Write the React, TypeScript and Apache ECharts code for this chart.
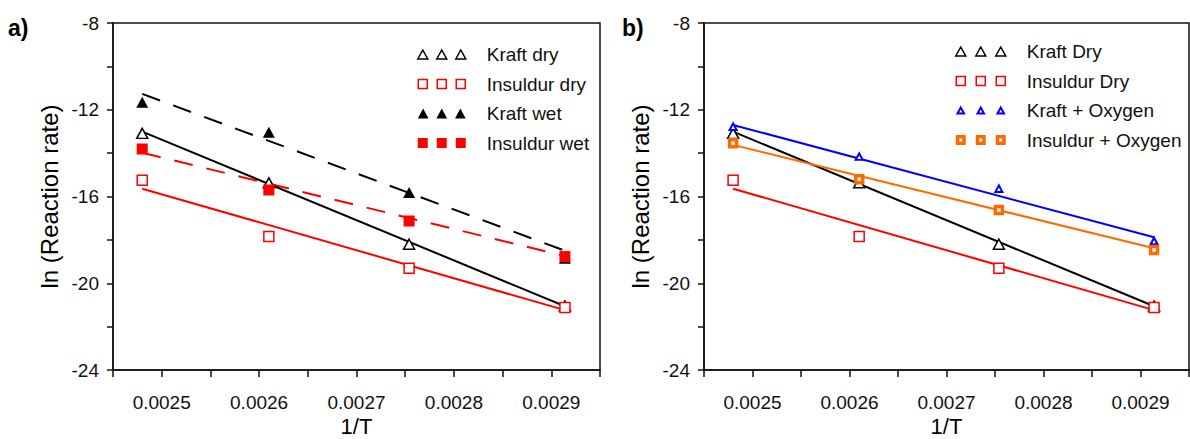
import React, { useEffect, useRef } from "react";
import * as echarts from "echarts";

// 1/T values (K^-1)
const invT = [0.00248, 0.00261, 0.002754, 0.002914];

// Panel a) measured ln(rate)
const kraftDry = [-13.09, -15.37, -18.2, -21.05];
const insuldurDry = [-15.25, -17.84, -19.31, -21.12];
const kraftWet = [-11.65, -13.04, -15.82, -18.85];
const insuldurWet = [-13.81, -15.7, -17.13, -18.77];

// Panel b) measured ln(rate)
const kraftOxygen = [-12.78, -14.16, -15.64, -18.05];
const insuldurOxygen = [-13.55, -15.21, -16.62, -18.47];

// Linear-fit end values (at first and last 1/T)
const kraftDryFit = [-13.01, -21.06];
const insuldurDryFit = [-15.64, -21.24];
const kraftWetFit = [-11.27, -18.5];
const insuldurWetFit = [-13.98, -18.75];
const kraftOxygenFit = [-12.7, -17.88];
const insuldurOxygenFit = [-13.62, -18.39];

const yTicks = { min: -24, max: -8, step: 2, labelStep: 4 };
const xTicks = { min: 0.00245, max: 0.00295, step: 0.00005 };

const FONT = "'Liberation Sans', Arial, Helvetica, sans-serif";

const pts = (ys: number[]) => invT.map((x, i) => [x, ys[i]]);
const fitPts = (f: number[]) => [
  [invT[0], f[0]],
  [invT[invT.length - 1], f[1]],
];

const pad = (w: number, h: number) => `M0,0 L0,0 M${w},${h} L${w},${h} `;
const triIcon = (w: number, gap: number, tw: number, th: number) => {
  let d = pad(w, 10);
  for (let k = 0; k < 3; k++) {
    const cx = 5 + k * gap;
    d += `M${cx - tw / 2},${5 + th / 2} L${cx},${5 - th / 2} L${cx + tw / 2},${5 + th / 2} Z `;
  }
  return "path://" + d;
};
const sqIcon = (w: number, gap: number, s: number) => {
  let d = pad(w, 10);
  for (let k = 0; k < 3; k++) {
    const cx = 5 + k * gap;
    d += `M${cx - s / 2},${5 - s / 2} L${cx + s / 2},${5 - s / 2} L${cx + s / 2},${5 + s / 2} L${cx - s / 2},${5 + s / 2} Z `;
  }
  return "path://" + d;
};

function makeXAxis(gridIndex: number) {
  return {
    type: "value",
    gridIndex,
    min: xTicks.min,
    max: xTicks.max,
    interval: xTicks.step,
    name: "1/T",
    nameLocation: "middle",
    nameGap: 45,
    nameMoveOverlap: false,
    nameTextStyle: { fontSize: 22, lineHeight: 22, color: "#000", fontFamily: FONT },
    axisLine: { show: true, onZero: false, lineStyle: { color: "#111", width: 1.5 } },
    axisTick: { show: true, length: 7, lineStyle: { color: "#111", width: 1.5 } },
    axisLabel: {
      margin: 23,
      fontSize: 19,
      lineHeight: 19,
      color: "#111",
      fontFamily: FONT,
      showMinLabel: true,
      showMaxLabel: true,
      formatter: (v: number) =>
        Math.round(v * 1e5) % 10 === 0 ? v.toFixed(4) : "",
    },
    splitLine: { show: false },
  };
}

function makeYAxis(gridIndex: number) {
  return {
    type: "value",
    gridIndex,
    min: yTicks.min,
    max: yTicks.max,
    interval: yTicks.step,
    name: "ln (Reaction rate)",
    nameLocation: "middle",
    nameRotate: 90,
    nameGap: 52,
    nameMoveOverlap: false,
    nameTextStyle: { fontSize: 24, color: "#000", fontFamily: FONT },
    axisLine: { show: true, onZero: false, lineStyle: { color: "#111", width: 1.5 } },
    axisTick: { show: true, length: 6, lineStyle: { color: "#111", width: 1.5 } },
    axisLabel: {
      margin: 14,
      fontSize: 19,
      color: "#111",
      fontFamily: FONT,
      formatter: (v: number) =>
        Math.round(v) % yTicks.labelStep === 0 ? String(Math.round(v)) : "",
    },
    splitLine: { show: false },
  };
}

function fitLine(idx: number, data: number[], color: string, dashed: boolean) {
  return {
    type: "line",
    xAxisIndex: idx,
    yAxisIndex: idx,
    data: fitPts(data),
    symbol: "none",
    z: 2,
    silent: true,
    lineStyle: { color, width: 2, type: dashed ? [19, 14] : "solid" },
  };
}

function scatter(
  idx: number,
  name: string,
  data: number[],
  symbol: string,
  size: number | number[],
  fill: string,
  stroke: string,
  bw: number
) {
  return {
    type: "scatter",
    name,
    xAxisIndex: idx,
    yAxisIndex: idx,
    data: pts(data),
    symbol,
    symbolSize: size,
    z: 3,
    itemStyle: { color: fill, borderColor: stroke, borderWidth: bw, opacity: 1 },
  };
}

export default function App() {
  const ref = useRef<HTMLDivElement>(null);
  useEffect(() => {
    if (!ref.current) return;
    const chart = echarts.init(ref.current, null, { renderer: "svg" });
    const legendText = {
      fontSize: 19,
      color: "#111",
      fontFamily: FONT,
      padding: [0, 0, 0, 16],
    };
    const gridBase = {
      top: 23,
      height: 347,
      show: true,
      borderColor: "#111",
      borderWidth: 1.5,
      backgroundColor: "transparent",
      containLabel: false,
      outerBoundsMode: "none",
    };
    chart.setOption({
      animation: false,
      backgroundColor: "#fff",
      grid: [
        { ...gridBase, left: 113, width: 487 },
        { ...gridBase, left: 704, width: 485 },
      ],
      xAxis: [makeXAxis(0), makeXAxis(1)],
      yAxis: [makeYAxis(0), makeYAxis(1)],
      legend: [
        {
          orient: "vertical",
          left: 417,
          top: 45,
          padding: 0,
          itemWidth: 48,
          itemHeight: 10,
          itemGap: 10.5,
          selectedMode: false,
          textStyle: legendText,
          data: [
            { name: "Kraft dry", icon: triIcon(48, 19, 10, 9), itemStyle: { borderWidth: 1.5 } },
            { name: "Insuldur dry", icon: sqIcon(48, 19, 9), itemStyle: { borderWidth: 1.5 } },
            { name: "Kraft wet", icon: triIcon(48, 19, 11, 10), itemStyle: { borderWidth: 0 } },
            { name: "Insuldur wet", icon: sqIcon(48, 19, 10), itemStyle: { borderWidth: 0 } },
          ],
        },
        {
          orient: "vertical",
          left: 954,
          top: 42,
          padding: 0,
          itemWidth: 50,
          itemHeight: 10,
          itemGap: 10.5,
          selectedMode: false,
          textStyle: legendText,
          data: [
            { name: "Kraft Dry", icon: triIcon(50, 20, 10, 9), itemStyle: { borderWidth: 1.5 } },
            { name: "Insuldur Dry", icon: sqIcon(50, 20, 9), itemStyle: { borderWidth: 1.5 } },
            { name: "Kraft + Oxygen", icon: triIcon(50, 20, 6.5, 6), itemStyle: { borderWidth: 2 } },
            { name: "Insuldur + Oxygen", icon: sqIcon(50, 20, 6.5), itemStyle: { borderWidth: 3.5 } },
          ],
        },
      ],
      graphic: [
        { type: "text", left: 8, top: 16, style: { text: "a)", font: `bold 23px ${FONT}`, fill: "#000" } },
        { type: "text", left: 622, top: 16, style: { text: "b)", font: `bold 23px ${FONT}`, fill: "#000" } },
      ],
      series: [
        // panel a fits
        fitLine(0, kraftWetFit, "#000", true),
        fitLine(0, insuldurWetFit, "#ff0000", true),
        fitLine(0, kraftDryFit, "#000", false),
        fitLine(0, insuldurDryFit, "#ff0000", false),
        // panel a points
        scatter(0, "Kraft dry", kraftDry, "triangle", [11, 10], "#fff", "#000", 1.5),
        scatter(0, "Insuldur dry", insuldurDry, "rect", 10, "#fff", "#ff0000", 1.5),
        scatter(0, "Kraft wet", kraftWet, "triangle", [12, 11], "#000", "#000", 0),
        scatter(0, "Insuldur wet", insuldurWet, "rect", 11, "#ff0000", "#ff0000", 0),
        // panel b fits
        fitLine(1, kraftDryFit, "#000", false),
        fitLine(1, insuldurDryFit, "#ff0000", false),
        fitLine(1, kraftOxygenFit, "#0000ff", false),
        fitLine(1, insuldurOxygenFit, "#ff6a00", false),
        // panel b points
        scatter(1, "Kraft Dry", kraftDry, "triangle", [11, 10], "#fff", "#000", 1.5),
        scatter(1, "Insuldur Dry", insuldurDry, "rect", 10, "#fff", "#ff0000", 1.5),
        scatter(1, "Kraft + Oxygen", kraftOxygen, "triangle", [7, 6.5], "#fff", "#0000ff", 2),
        scatter(1, "Insuldur + Oxygen", insuldurOxygen, "rect", 7, "#fff", "#ff6a00", 3.5),
      ],
    });
    return () => chart.dispose();
  }, []);
  return (
    <div
      ref={ref}
      style={{ position: "absolute", left: 0, top: 0, width: 1190, height: 439, background: "#fff" }}
    />
  );
}
